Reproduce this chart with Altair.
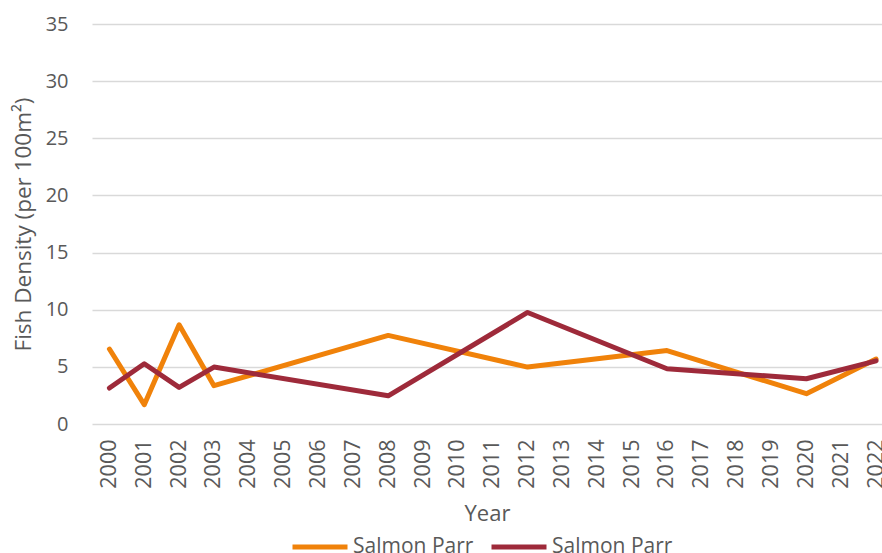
import altair as alt
import pandas as pd

# Survey years with density estimates (fish per 100 m²)
years = [2000, 2001, 2002, 2003, 2008, 2012, 2016, 2020, 2022]
parr_a = [6.56, 1.69, 8.68, 3.35, 7.75, 4.98, 6.43, 2.65, 5.68]
parr_b = [3.15, 5.27, 3.20, 4.98, 2.47, 9.76, 4.83, 3.96, 5.53]
series_keys = ["parr_a", "parr_b"]
series_label = "Salmon Parr"
series_colors = ["#F0820A", "#9E2A3A"]
tick_years = list(range(2000, 2023))

rows = []
for key, vals in zip(series_keys, [parr_a, parr_b]):
    for y, v in zip(years, vals):
        rows.append({"Year": y, "Density": v, "Series": key})
df = pd.DataFrame(rows)

FONT = "Open Sans"
TXT = "#595959"

chart = (
    alt.Chart(df)
    .mark_line(strokeWidth=5, strokeCap="round", strokeJoin="round")
    .encode(
        x=alt.X(
            "Year:Q",
            scale=alt.Scale(domain=[1999.5, 2022.17], nice=False, zero=False),
            axis=alt.Axis(
                values=tick_years,
                format="d",
                labelAngle=-90,
                labelAlign="right",
                labelBaseline="middle",
                labelPadding=15,
                labelFontSize=21.5,
                labelColor=TXT,
                labelFont=FONT,
                ticks=False,
                grid=False,
                domain=False,
                title="Year",
                titleFontSize=22,
                titleFontWeight="normal",
                titleColor=TXT,
                titleFont=FONT,
                titlePadding=15,
                labelOverlap=False,
                labelFlush=False,
            ),
        ),
        y=alt.Y(
            "Density:Q",
            scale=alt.Scale(domain=[0, 35], nice=False),
            axis=alt.Axis(
                values=[0, 5, 10, 15, 20, 25, 30, 35],
                labelFontSize=20,
                labelColor=TXT,
                labelFont=FONT,
                labelPadding=24,
                ticks=False,
                domain=False,
                gridColor="#D9D9D9",
                gridWidth=1.3,
                title="Fish Density (per 100m²)",
                titleFontSize=22.5,
                titleFontWeight="normal",
                titleColor=TXT,
                titleFont=FONT,
                titlePadding=10,
            ),
        ),
        color=alt.Color(
            "Series:N",
            scale=alt.Scale(domain=series_keys, range=series_colors),
            legend=alt.Legend(
                title=None,
                orient="none",
                legendX=198,
                legendY=493,
                direction="horizontal",
                symbolType="stroke",
                symbolSize=3025,
                symbolStrokeWidth=5,
                labelExpr=f"'{series_label}'",
                labelFontSize=21,
                labelColor=TXT,
                labelFont=FONT,
                labelOffset=3,
                columnPadding=7,
            ),
        ),
    )
    .properties(
        width=790,
        height=400,
        padding={"left": 92, "top": 24, "right": 0, "bottom": 129},
        autosize=alt.AutoSizeParams(type="none"),
        background="white",
    )
    .configure_view(stroke=None)
)

chart.save("out.html", embed_options={"renderer": "svg", "actions": False})
